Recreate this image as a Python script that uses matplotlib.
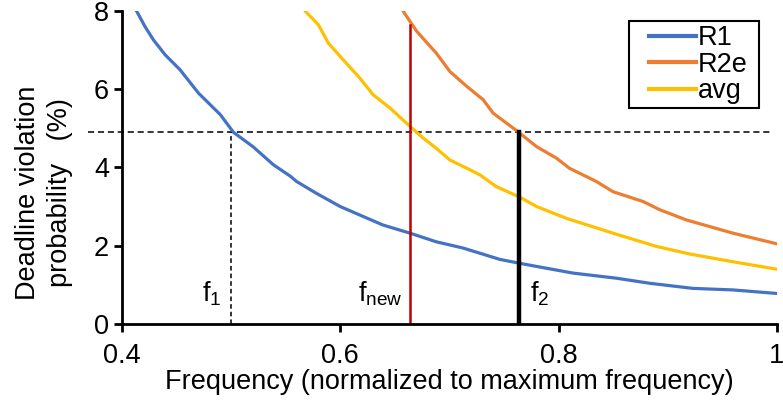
import matplotlib
matplotlib.use('Agg')
import matplotlib.pyplot as plt
from matplotlib.patches import Rectangle

plt.rcParams['font.family'] = ['Liberation Sans', 'DejaVu Sans']
plt.rcParams['mathtext.fontset'] = 'custom'
plt.rcParams['mathtext.rm'] = 'Liberation Sans'
plt.rcParams['mathtext.it'] = 'Liberation Sans'

FS = 19.5

# ── Data ──
r1_x = [0.409, 0.4134, 0.421, 0.4287, 0.4394, 0.453, 0.470, 0.490, 0.502,
        0.520, 0.5386, 0.554, 0.560, 0.578, 0.600, 0.639, 0.664, 0.688,
        0.7126, 0.7463, 0.7646, 0.780, 0.8134, 0.853, 0.8837, 0.923, 0.960,
        1.0]
r1_y = [8.2, 7.99, 7.60, 7.26, 6.88, 6.50, 5.90, 5.35, 4.90,
        4.53, 4.07, 3.78, 3.64, 3.34, 3.00, 2.53, 2.32, 2.10,
        1.94, 1.65, 1.55, 1.47, 1.30, 1.17, 1.04, 0.91, 0.87,
        0.78]

r2e_x = [0.654, 0.6577, 0.670, 0.688, 0.7005, 0.716, 0.731, 0.740, 0.7616,
         0.780, 0.798, 0.810, 0.8348, 0.850, 0.8775, 0.8928, 0.917, 0.960,
         1.0]
r2e_y = [8.2, 7.99, 7.48, 6.92, 6.45, 6.07, 5.73, 5.39, 4.94,
         4.53, 4.24, 3.98, 3.64, 3.38, 3.13, 2.92, 2.66, 2.32,
         2.05]

avg_x = [0.564, 0.568, 0.5798, 0.589, 0.6027, 0.618, 0.630, 0.6455, 0.6623,
         0.676, 0.688, 0.7005, 0.716, 0.728, 0.743, 0.7646, 0.780, 0.8073,
         0.850, 0.890, 0.920, 0.960, 1.0]
avg_y = [8.2, 7.99, 7.65, 7.18, 6.75, 6.28, 5.86, 5.52, 5.09,
         4.75, 4.49, 4.19, 3.98, 3.81, 3.51, 3.24, 3.00, 2.70,
         2.32, 1.98, 1.79, 1.59, 1.40]

threshold = 4.9
f1 = 0.5
f_new = 0.664
f_new_top = 7.65
f2 = 0.764

fig = plt.figure(figsize=(7.83, 4.07), dpi=100)
ax = fig.add_axes([0.156, 0.204, 0.836, 0.769])

ax.plot(r1_x, r1_y, color='#4472C4', lw=2.3, label='R1')
ax.plot(r2e_x, r2e_y, color='#ED7D31', lw=2.3, label='R2e')
ax.plot(avg_x, avg_y, color='#FFC000', lw=2.3, label='avg')

# threshold + frequency markers
ax.plot([0.369, 0.996], [threshold, threshold], color='black', lw=1.1,
        ls=(0, (4, 2.5)), clip_on=False, zorder=1)
ax.plot([f1, f1], [0, threshold], color='black', lw=1.1, ls=(0, (3, 2)))
ax.plot([f_new, f_new], [0, f_new_top], color='#C00000', lw=1.8)
ax.plot([f2, f2], [0, threshold], color='black', lw=3.2)

ax.text(f1 - 0.009, 0.4, r'f$_1$', fontsize=FS, ha='right', va='bottom')
ax.text(f_new - 0.007, 0.4, r'f$_{\mathrm{new}}$', fontsize=FS,
        ha='right', va='bottom')
ax.text(f2 + 0.01, 0.4, r'f$_2$', fontsize=FS, ha='left', va='bottom')

ax.set_xlim(0.4, 1.0)
ax.set_ylim(0, 8)
ax.set_xticks([0.4, 0.6, 0.8, 1.0])
ax.set_xticklabels(['0.4', '0.6', '0.8', '1'])
ax.set_yticks([0, 2, 4, 6, 8])
ax.tick_params(labelsize=FS, width=2, length=6, direction='out')
ax.tick_params(axis='x', pad=8)

for s in ['top', 'right']:
    ax.spines[s].set_visible(False)
for s in ['left', 'bottom']:
    ax.spines[s].set_linewidth(2)

ax.set_xlabel('Frequency (normalized to maximum frequency)', fontsize=FS,
              labelpad=0)
ax.set_ylabel('Deadline violation\nprobability   (%)', fontsize=FS,
              linespacing=1.3)
ax.yaxis.set_label_coords(-0.075, 0.42)

leg = ax.legend(loc='upper right', bbox_to_anchor=(0.955, 0.955), fontsize=FS,
                frameon=False, handlelength=1.75,
                handletextpad=0.05, borderpad=0.0, labelspacing=0.02,
                borderaxespad=0)
for line in leg.get_lines():
    line.set_linewidth(3)

# Excel-style legend box with wide side padding
fig.canvas.draw()
bb = leg.get_window_extent().transformed(fig.transFigure.inverted())
px, py = 20 / 783, 4 / 407
fig.add_artist(Rectangle((bb.x0 - px, bb.y0 - py), bb.width + 2 * px - 8 / 783,
                         bb.height + 2 * py, transform=fig.transFigure,
                         facecolor='none', edgecolor='black', lw=1.5))

fig.savefig('out.png', dpi=100)
